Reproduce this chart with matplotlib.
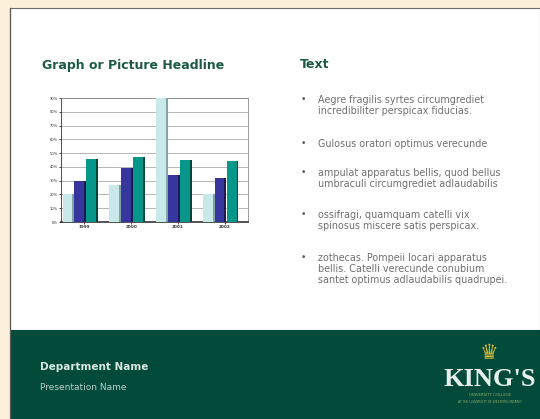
import matplotlib.pyplot as plt
from matplotlib.patches import Rectangle
import numpy as np

plt.rcParams['font.family'] = ['DejaVu Sans']

# chart data
years = ['1999', '2000', '2001', '2002']
series_light = [20, 27, 90, 20]
series_blue = [30, 39, 34, 32]
series_teal = [46, 47, 45, 44]
y_ticks = [0, 10, 20, 30, 40, 50, 60, 70, 80, 90]
y_tick_labels = [f'{t}%' for t in y_ticks]

bullets = [
    "Aegre fragilis syrtes circumgrediet\nincredibiliter perspicax fiducias.",
    "Gulosus oratori optimus verecunde",
    "ampulat apparatus bellis, quod bellus\numbraculi circumgrediet adlaudabilis",
    "ossifragi, quamquam catelli vix\nspinosus miscere satis perspicax.",
    "zothecas. Pompeii locari apparatus\nbellis. Catelli verecunde conubium\nsantet optimus adlaudabilis quadrupei.",
]

W, H = 540, 419


def fx(px):
    return px / W


def fy(py):
    return 1 - py / H


fig = plt.figure(figsize=(5.4, 4.19), dpi=100)
fig.patch.set_facecolor('#fdf0da')

# slide body and footer band (behind everything)
fig.add_artist(Rectangle((fx(10), fy(330)), fx(530), fy(8) - fy(330),
                         transform=fig.transFigure, facecolor='white',
                         edgecolor='#6b6b6b', linewidth=0.8, zorder=-10))
fig.add_artist(Rectangle((fx(10), 0), fx(530), fy(330),
                         transform=fig.transFigure, facecolor='#024b3a',
                         edgecolor='none', zorder=-9))
fig.add_artist(plt.Line2D([fx(10), fx(10)], [0, fy(8)], transform=fig.transFigure,
                          color='#5a5a5a', linewidth=0.9, zorder=-8))

# headings
fig.text(fx(42), fy(66), 'Graph or Picture Headline', fontsize=9,
         fontweight='bold', color='#1d5a45', va='center')
fig.text(fx(300), fy(65), 'Text', fontsize=9, fontweight='bold',
         color='#1d5a45', va='center')

# bullet list
bullet_y = [95, 139, 168, 210, 253]
for by, txt in zip(bullet_y, bullets):
    fig.text(fx(301), fy(by), '\u2022', fontsize=6.5, color='#555555', va='top')
    fig.text(fx(318), fy(by), txt, fontsize=6.9, color='#707070', va='top',
             linespacing=1.15)

# bar chart
ax = fig.add_axes([fx(61), fy(222), fx(248) - fx(61), fy(98) - fy(222)])
ax.set_facecolor('white')
x = np.arange(len(years))
w = 0.21
specs = [(series_light, '#c8e8ea', '#7fa3a8', -0.36),
         (series_blue, '#36369e', '#1a1a55', -0.11),
         (series_teal, '#06978a', '#00443e', 0.15)]
for vals, face, side, off in specs:
    ax.bar(x + off, vals, width=w, color=face, edgecolor='none', zorder=3)
    ax.bar(x + off + w / 2 + 0.02, vals, width=0.04, color=side,
           edgecolor='none', zorder=3)

ax.set_xlim(-0.5, 3.5)
ax.set_ylim(0, 90)
ax.set_yticks(y_ticks)
ax.set_yticklabels(y_tick_labels, fontsize=2.6, color='#333333')
ax.set_xticks(x)
ax.set_xticklabels(years, fontsize=3, fontweight='bold', color='#333333')
ax.tick_params(axis='both', length=1.5, width=0.5, pad=1)
ax.grid(axis='y', color='#9a9a9a', linewidth=0.5, zorder=0)
for s in ax.spines.values():
    s.set_color('#8a8a8a')
    s.set_linewidth(0.6)
ax.spines['left'].set_color('#333333')
ax.spines['bottom'].set_color('#333333')
ax.spines['bottom'].set_linewidth(1.2)

# footer text
fig.text(fx(40), fy(367), 'Department Name', fontsize=7.5, fontweight='bold',
         color='#d8e8e0', va='center')
fig.text(fx(40), fy(387), 'Presentation Name', fontsize=6.5, color='#b8d0c8',
         va='center')

# logo
fig.text(fx(489), fy(353), '\u265b', fontsize=15, color='#c9b43a',
         ha='center', va='center')
fig.text(fx(490), fy(379), "KING'S", fontsize=19, fontweight='bold',
         color='#e8f0ec', ha='center', va='center', family='Liberation Serif')
fig.text(fx(490), fy(395), 'UNIVERSITY COLLEGE', fontsize=2.8, color='#8fae6a',
         ha='center', va='center')
fig.text(fx(490), fy(402), 'AT THE UNIVERSITY OF WESTERN ONTARIO', fontsize=2.2,
         color='#8fae6a', ha='center', va='center')

fig.savefig('out.png', dpi=100, facecolor=fig.get_facecolor())
